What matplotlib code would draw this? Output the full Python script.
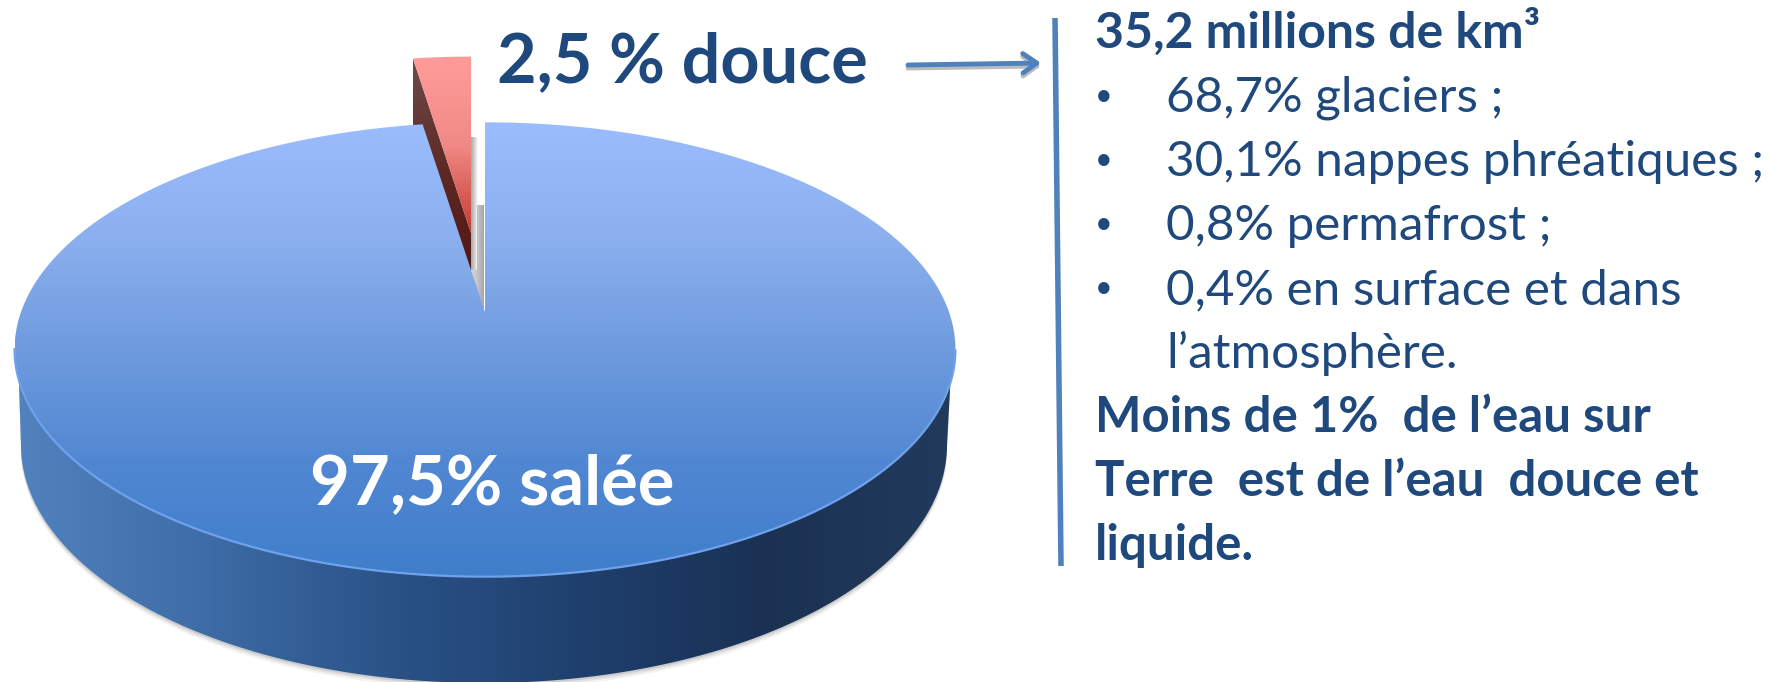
import numpy as np
import matplotlib
matplotlib.use("Agg")
import matplotlib.pyplot as plt
from matplotlib.colors import LinearSegmentedColormap
from matplotlib.patches import Polygon

# pie data
shares = [97.5, 2.5]
pie_labels = ["97,5% salée", "2,5 % douce"]

# text block on the right
title_line = "35,2 millions de km³"
bullet_lines = [
    "68,7% glaciers ;",
    "30,1% nappes phréatiques ;",
    "0,8% permafrost ;",
    "0,4% en surface et dans",
]
bullet_tail = "l’atmosphère."
closing_lines = [
    "Moins de 1%  de l’eau sur",
    "Terre  est de l’eau  douce et",
    "liquide.",
]

W, H = 1773, 682
FONT = "Lato"
NAVY = "#1F497D"
LINE_BLUE = "#4F81BD"

# perspective disc: the pie centre lands above the middle of the ellipse
CX, CY, AX, AY, K = 485.0, 312.0, 464.0, 221.0, 0.165


def project(angle_deg):
    """Clockwise angle from 12 o'clock on the unit disc to picture pixels."""
    a = np.radians(angle_deg)
    u, v = np.sin(a), np.cos(a)
    d = 1 + K * v
    return CX + AX * u / d, CY - AY * v / d


def sector(start, end, n=300):
    x, y = project(np.linspace(start, end, n))
    return np.column_stack([np.r_[CX, x], np.r_[CY, y]])


def gradient_fill(ax, poly, stops, horizontal=False, zorder=2):
    cmap = LinearSegmentedColormap.from_list("g", stops)
    grad = np.linspace(0, 1, 256)
    grad = grad[None, :] if horizontal else grad[:, None]
    x0, y0 = poly.min(axis=0)
    x1, y1 = poly.max(axis=0)
    im = ax.imshow(grad, cmap=cmap, extent=(x0, x1, y1, y0), aspect="auto",
                   interpolation="bilinear", zorder=zorder)
    patch = Polygon(poly, closed=True, transform=ax.transData, fc="none", ec="none")
    ax.add_patch(patch)
    im.set_clip_path(patch)
    return im


fig = plt.figure(figsize=(W / 100, H / 100), dpi=100)
ax = fig.add_axes([0, 0, 1, 1])

sea_end = 360 * shares[0] / sum(shares)
wedge = sector(sea_end, 360, 40)
top = sector(0, sea_end)

# side of the cylinder
t = np.radians(np.linspace(0, 180, 300))
low_x = 484 + 463 * np.cos(t)
low_y = 445 + 238 * np.sin(t)
side = np.column_stack([np.r_[952, low_x, 18], np.r_[352, low_y, 352]])

for grow, alpha in [(6, 0.07), (4, 0.10), (2, 0.16)]:
    shadow = side + [0, grow]
    ax.add_patch(Polygon(shadow, closed=True, fc="#555555", ec="none", alpha=alpha, zorder=1))
gradient_fill(ax, side, ["#5282BE", "#3D6CA6", "#2A5287", "#1F406E", "#1A3154", "#223A5C"],
              horizontal=True, zorder=2)

# inner wall seen through the gap
wall_back = np.array([[471, 137], [478, 137], [478, 275], [471, 270]])
wall_front = np.array([[477, 205], [484, 205], [484, 312], [471, 270], [477, 270]])
gradient_fill(ax, wall_back, ["#A8A8A8", "#D0D0D0", "#FFFFFF"], horizontal=True, zorder=3)
gradient_fill(ax, wall_front, ["#D8D8D8", "#C4C4C4", "#A6A6A6"], horizontal=True, zorder=3.5)

# freshwater slice pulled out of the pie
scale, tip_x, tip_y = 0.93, 471.0, 233.0
red = (wedge - [CX, CY]) * scale + [tip_x, tip_y]
left_x, left_y = red[1]
dark = np.array([[left_x, left_y], [tip_x, tip_y], [tip_x, 275], [left_x, 135]])
gradient_fill(ax, dark, ["#6E4C4A", "#5E2A26", "#521612"], zorder=4)
gradient_fill(ax, red, ["#FF9C9A", "#F08A86", "#C43C32"], zorder=5)

# top of the big slice
gradient_fill(ax, top, ["#9BBCFD", "#8CB0EF", "#6E9BDE", "#5187D2", "#3F7ECB"], zorder=6)
arc = top[1:]
front = arc[(arc[:, 1] > 349)]
ax.plot(front[:, 0], front[:, 1], color="#6FA2EC", lw=1.6, zorder=7)

# labels on the pie
ax.text(492, 504, pie_labels[0], color="white", fontsize=49.5, fontweight="bold",
        family=FONT, ha="center", va="baseline", zorder=8)
ax.text(497, 82, pie_labels[1], color=NAVY, fontsize=49.2, fontweight="bold",
        family=FONT, ha="left", va="baseline", zorder=8)

# arrow and separator
for off, color, lw in [(3, "#BBBBBB", 3.5), (0, LINE_BLUE, 3.5)]:
    ax.annotate("", xy=(1041, 63 + off), xytext=(908, 65 + off), zorder=8,
                arrowprops=dict(arrowstyle="->,head_length=1.0,head_width=0.7",
                                color=color, lw=lw, shrinkA=0, shrinkB=0))
ax.plot([1055, 1061], [18, 566], color=LINE_BLUE, lw=4, solid_capstyle="butt", zorder=8)

# right text block
line_y = 48
step = 64.0
ax.text(1095, line_y, title_line, color=NAVY, fontsize=36, fontweight="bold",
        family=FONT, va="baseline")
for i, line in enumerate(bullet_lines):
    y = line_y + step * (i + 1)
    ax.text(1104, y - 7, "•", color=NAVY, fontsize=22, family=FONT, ha="center", va="baseline")
    ax.text(1166, y, line, color=NAVY, fontsize=35.6, family=FONT, va="baseline")
ax.text(1166, line_y + step * 5, bullet_tail, color=NAVY, fontsize=35.6, family=FONT, va="baseline")
for i, line in enumerate(closing_lines):
    ax.text(1095, line_y + step * (i + 6), line, color=NAVY, fontsize=35.4, fontweight="bold",
            family=FONT, va="baseline")

ax.set_xlim(0, W)
ax.set_ylim(H, 0)
ax.axis("off")
fig.savefig("out.png", dpi=100, facecolor="white")
